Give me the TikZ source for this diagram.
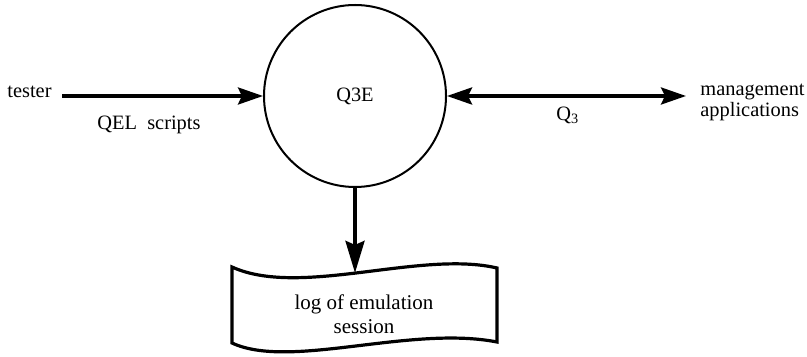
\documentclass[tikz,border=0pt]{standalone}
\usepackage{fontspec}
\setmainfont{Liberation Serif}
\newfontfamily\timesfam{Liberation Serif}
\usetikzlibrary{arrows.meta}
\begin{document}
\begin{tikzpicture}[x=0.5pt,y=-0.5pt,
  lbl/.style={font=\timesfam\fontsize{10.2}{10.5}\selectfont, inner sep=0pt},
  tipH/.style={},
  flow/.style={line width=1.75pt, -{Stealth[length=12.5pt,width=8.5pt,inset=2pt]}},
  flowboth/.style={line width=1.75pt, {Stealth[length=12.5pt,width=8.5pt,inset=2pt]}-{Stealth[length=12.5pt,width=8.5pt,inset=2pt]}},
  flowdown/.style={line width=1.75pt, -{Stealth[length=16pt,width=9.5pt,inset=2pt]}},
  proc/.style={circle, draw, line width=1pt, minimum size=91pt, inner sep=0pt},
  logbox/.style={line width=1.6pt, line join=miter}]
\useasboundingbox (0,0) rectangle (807,357);

% process
\node[proc, lbl] (q3e) at (355,96) {\raisebox{-4.5pt}{Q3E}};

% left: tester
\node[lbl, anchor=base west] (tester) at (7,98) {tester};
\coordinate (tstart) at (62,96);
\draw[flow] (tstart) -- (q3e.west);
\node[lbl, anchor=base west] (qel) at (97,130) {QEL\ \ scripts};

% right: management applications
\coordinate (mend) at (686,96);
\draw[flowboth] (q3e.east) -- (mend);
\node[lbl, anchor=base west] (q3) at (556,121) {Q\textsubscript{3}};
\node[lbl, align=left, anchor=west] (mgmt) at (700,102) {management\\applications};

% log document
\draw[logbox] (232,267) .. controls (300,298) and (420,250) .. (497,268) coordinate[pos=0.485] (logtop)
  -- (497,342) .. controls (410,325) and (290,370) .. (232,343) -- cycle;
\node[lbl, align=center, font=\timesfam\fontsize{10.5}{12}\selectfont] (log) at (364,314) {log of emulation\\session};
\draw[flowdown] (q3e.south) -- (q3e.south |- logtop);
\end{tikzpicture}
\end{document}
